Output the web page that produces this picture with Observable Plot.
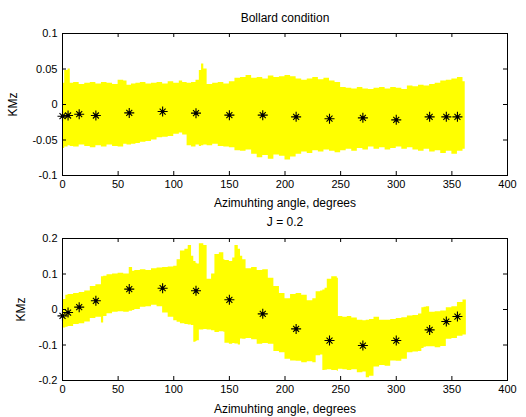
<!DOCTYPE html>
<html><head><meta charset="utf-8">
<script src="https://cdn.jsdelivr.net/npm/d3@7"></script>
<script src="https://cdn.jsdelivr.net/npm/@observablehq/plot@0.6"></script>
<style>
body{margin:0;background:#fff;}
#c{width:526px;height:417px;}
#c svg{display:block;}
</style></head><body><div id="c"></div>
<script>
const angles = [0,5,15,30,60,90,120,150,180,210,240,270,300,330,345,355];
const bollardMeans = [-0.0165,-0.0155,-0.0137,-0.0155,-0.0118,-0.0099,-0.0122,-0.015,-0.015,-0.0174,-0.020,-0.0188,-0.0216,-0.0174,-0.0174,-0.0174];
const j02Means = [-0.018,-0.0085,0.0066,0.0245,0.0574,0.060,0.0527,0.0273,-0.0122,-0.0546,-0.0875,-0.1016,-0.0875,-0.0574,-0.0339,-0.0198];

const bollardBandX  = [0,2,5,7,10,15,20,25,30,35,40,45,50,55,58,62,66,70,75,80,85,90,95,100,105,108,112,116,120,123,125,127,130,135,140,145,150,155,160,165,170,175,180,185,190,195,200,205,210,215,220,225,230,235,240,245,250,255,260,265,270,275,280,285,290,295,300,305,310,315,320,325,330,335,340,345,350,355,360,362];
const bollardBandHi = [0.030,0.048,0.050,0.030,0.031,0.028,0.030,0.031,0.029,0.031,0.030,0.028,0.034,0.033,0.027,0.029,0.030,0.031,0.029,0.030,0.031,0.029,0.032,0.030,0.033,0.031,0.030,0.031,0.034,0.048,0.057,0.050,0.028,0.030,0.031,0.029,0.032,0.037,0.038,0.041,0.037,0.038,0.036,0.040,0.038,0.039,0.041,0.039,0.036,0.034,0.036,0.038,0.035,0.037,0.033,0.031,0.024,0.023,0.022,0.024,0.022,0.021,0.023,0.024,0.022,0.024,0.023,0.021,0.026,0.025,0.027,0.026,0.028,0.030,0.033,0.034,0.036,0.038,0.032,0.030];
const bollardBandLo = [-0.062,-0.060,-0.058,-0.059,-0.060,-0.057,-0.059,-0.061,-0.058,-0.060,-0.057,-0.059,-0.060,-0.056,-0.057,-0.056,-0.055,-0.053,-0.052,-0.050,-0.047,-0.046,-0.045,-0.042,-0.040,-0.043,-0.058,-0.060,-0.057,-0.059,-0.058,-0.057,-0.058,-0.056,-0.059,-0.060,-0.061,-0.065,-0.066,-0.064,-0.070,-0.075,-0.072,-0.077,-0.071,-0.073,-0.078,-0.074,-0.070,-0.067,-0.069,-0.065,-0.067,-0.064,-0.066,-0.068,-0.065,-0.063,-0.066,-0.062,-0.064,-0.060,-0.063,-0.061,-0.064,-0.062,-0.060,-0.063,-0.061,-0.064,-0.066,-0.063,-0.067,-0.065,-0.069,-0.066,-0.070,-0.066,-0.063,-0.062];

const j02BandX  = [0,3,5,10,15,20,25,30,35,37,40,45,50,55,60,63,65,70,75,80,85,90,95,100,103,106,110,113,116,118,120,121,123,127,130,134,137,141,145,146,150,153,155,158,160,162,165,170,175,180,185,190,195,200,205,210,215,220,225,228,232,234,236,238,242,247,248,252,256,260,265,270,273,276,280,285,290,295,300,305,310,315,320,323,325,327,330,335,340,345,350,355,360,363];
const j02BandHi = [0.028,0.040,0.042,0.045,0.048,0.052,0.065,0.070,0.092,0.094,0.098,0.100,0.102,0.100,0.118,0.108,0.110,0.112,0.110,0.115,0.117,0.118,0.120,0.122,0.140,0.165,0.170,0.180,0.150,0.135,0.130,0.128,0.185,0.180,0.085,0.100,0.155,0.160,0.140,0.138,0.135,0.145,0.180,0.170,0.150,0.140,0.115,0.118,0.110,0.112,0.088,0.065,0.045,0.030,0.042,0.045,0.040,0.025,0.030,0.050,0.052,0.055,0.060,0.085,0.092,0.088,-0.020,-0.022,-0.020,-0.024,-0.030,-0.032,-0.030,-0.028,-0.022,-0.030,-0.030,-0.028,-0.025,-0.023,-0.018,-0.017,-0.013,0.005,0.006,0.008,-0.008,-0.006,-0.004,0.005,0.008,0.020,0.027,0.025];
const j02BandLo = [-0.052,-0.050,-0.048,-0.042,-0.040,-0.035,-0.025,-0.022,-0.038,-0.020,-0.012,-0.008,-0.006,-0.008,-0.005,-0.003,0.000,0.006,0.008,0.012,0.008,-0.010,-0.022,-0.032,-0.036,-0.040,-0.042,-0.044,-0.045,-0.092,-0.090,-0.088,-0.058,-0.056,-0.058,-0.060,-0.065,-0.063,-0.064,-0.095,-0.098,-0.096,-0.097,-0.100,-0.083,-0.084,-0.082,-0.085,-0.098,-0.096,-0.098,-0.118,-0.122,-0.140,-0.145,-0.146,-0.150,-0.147,-0.150,-0.130,-0.128,-0.172,-0.171,-0.170,-0.172,-0.174,-0.168,-0.170,-0.172,-0.170,-0.178,-0.176,-0.192,-0.188,-0.162,-0.158,-0.160,-0.145,-0.146,-0.140,-0.122,-0.120,-0.118,-0.110,-0.106,-0.105,-0.105,-0.108,-0.104,-0.084,-0.082,-0.075,-0.072,-0.070];

const xTicks = [0,50,100,150,200,250,300,350,400];
const bollardYTicks = [-0.1,-0.05,0,0.05,0.1];
const bollardYTickLabels = ["-0.1","-0.05","0","0.05","0.1"];
const j02YTicks = [-0.2,-0.1,0,0.1,0.2];
const j02YTickLabels = ["-0.2","-0.1","0","0.1","0.2"];
const xLabel = "Azimuhting angle, degrees";
const yLabel = "KMz";

const star = {draw(ctx, size){
  const r = Math.sqrt(size/Math.PI), d = r*0.6;
  ctx.moveTo(-r,0); ctx.lineTo(r,0); ctx.moveTo(0,-r); ctx.lineTo(0,r);
  ctx.moveTo(-d,-d); ctx.lineTo(d,d); ctx.moveTo(-d,d); ctx.lineTo(d,-d);
}};

function panel(o){
  const band = o.bandX.map((x,i)=>({x, hi:o.hi[i], lo:o.lo[i]}));
  const pts = angles.map((a,i)=>({a, v:o.means[i]}));
  const fh = o.height - o.marginTop - o.marginBottom;
  const fw = 526 - 62 - 19;
  return Plot.plot({
    width:526, height:o.height, marginLeft:62, marginRight:19, marginTop:o.marginTop, marginBottom:o.marginBottom,
    style:{fontFamily:"'Liberation Sans', Arial, sans-serif", fontSize:"11px", color:"#000", background:"#fff", overflow:"visible"},
    x:{domain:[0,400]},
    y:{domain:o.yDomain},
    marks:[
      Plot.areaY(band, {x:"x", y1:"lo", y2:"hi", fill:"#ffff00", curve:"step-after"}),
      Plot.dot(pts, {x:"a", y:"v", r:5, symbol:star, stroke:"#000", strokeWidth:1.1, fill:"none"}),
      Plot.dot(pts, {x:"a", y:"v", r:1.7, fill:"#000"}),
      Plot.frame({stroke:"#000"}),
      Plot.tickX(xTicks, {x:d=>d, insetTop:fh-4, stroke:"#000"}),
      Plot.tickX(xTicks, {x:d=>d, insetBottom:fh-4, stroke:"#000"}),
      Plot.tickY(o.yTicks, {y:d=>d, insetRight:fw-4, stroke:"#000"}),
      Plot.tickY(o.yTicks, {y:d=>d, insetLeft:fw-4, stroke:"#000"}),
      Plot.axisX({ticks:xTicks, tickSize:0, tickPadding:5, label:null, fontSize:11}),
      Plot.axisY({ticks:o.yTicks, tickSize:0, tickPadding:5, label:null, fontSize:11,
        tickFormat:d=>o.yTickLabels[o.yTicks.indexOf(d)]}),
      Plot.text([o.title], {text:d=>d, frameAnchor:"top", lineAnchor:"middle", dy:o.titleDy, fontSize:12}),
      Plot.text([xLabel], {text:d=>d, frameAnchor:"bottom", lineAnchor:"middle", dy:o.xLabelDy, fontSize:12}),
      Plot.text([yLabel], {text:d=>d, frameAnchor:"left", lineAnchor:"middle", textAnchor:"middle", dx:o.yLabelDx, rotate:-90, fontSize:12})
    ]
  });
}

const c = document.getElementById("c");
c.append(panel({bandX:bollardBandX, hi:bollardBandHi, lo:bollardBandLo, means:bollardMeans,
  yDomain:[-0.1,0.1], yTicks:bollardYTicks, yTickLabels:bollardYTickLabels, title:"Bollard condition",
  height:210, marginTop:33, marginBottom:35, titleDy:-15, xLabelDy:28, yLabelDx:-49}));
c.append(panel({bandX:j02BandX, hi:j02BandHi, lo:j02BandLo, means:j02Means,
  yDomain:[-0.2,0.2], yTicks:j02YTicks, yTickLabels:j02YTickLabels, title:"J = 0.2",
  height:207, marginTop:28, marginBottom:37, titleDy:-16, xLabelDy:29, yLabelDx:-41}));
</script></body></html>
